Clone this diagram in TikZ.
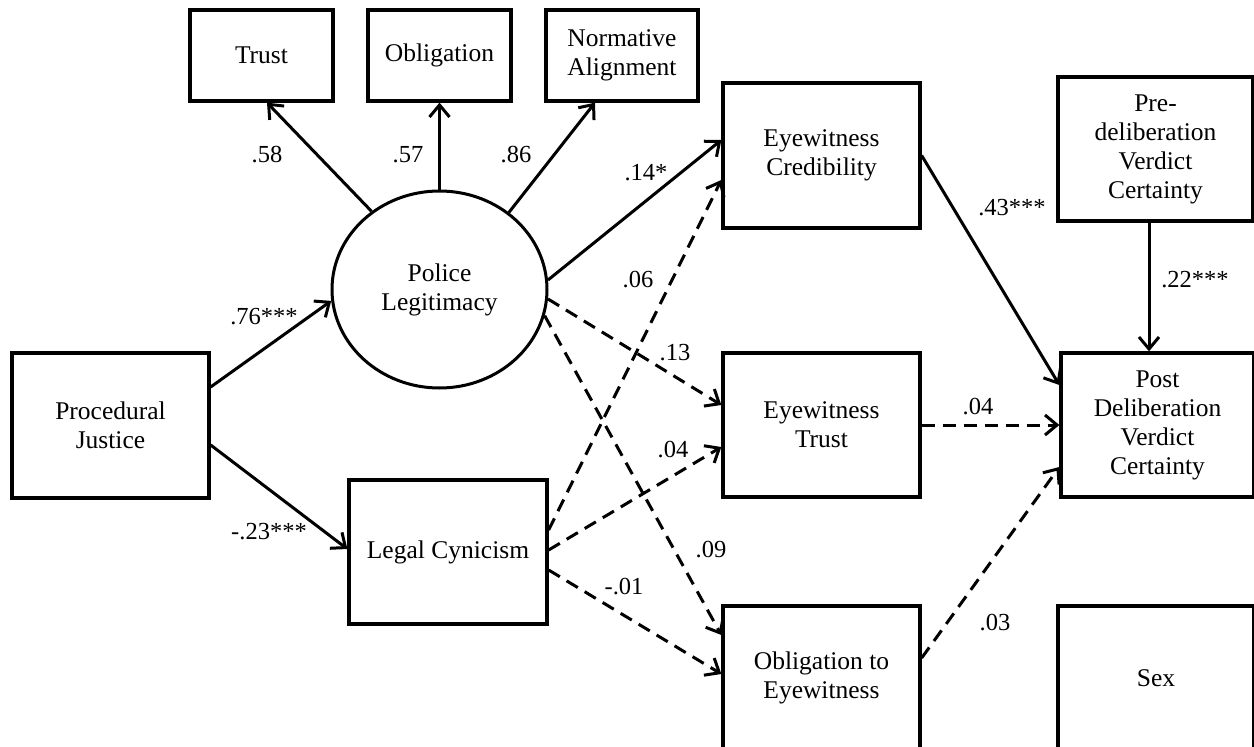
\documentclass[tikz,border=0pt]{standalone}
\usepackage{fontspec}
\setmainfont{Liberation Serif}
\usetikzlibrary{arrows.meta,shapes.geometric}
\begin{document}
\begin{tikzpicture}[x=1pt,y=-1pt,
  box/.style={draw,line width=3.3pt,fill=white,align=center,inner sep=0pt,font=\fontsize{25.5}{29}\selectfont},
  lat/.style={draw,ellipse,line width=3pt,fill=white,align=center,inner sep=0pt,font=\fontsize{25.5}{29}\selectfont},
  lbl/.style={font=\fontsize{24.5}{28}\selectfont,inner sep=0pt},
  arr/.style={line width=3pt,-{Straight Barb[length=12pt,width=20pt]}},
  dsh/.style={arr,dash pattern=on 13pt off 8pt}
]
\useasboundingbox (0,0) rectangle (1254,747);
% nodes
\node[box,minimum width=143pt,minimum height=91pt] (trust) at (261.5,55.5) {Trust};
\node[box,minimum width=143pt,minimum height=91pt] (oblig) at (439.5,55.5) {Obligation};
\node[box,minimum width=152pt,minimum height=91pt] (norm) at (622,55.5) {Normative\\Alignment};
\node[box,minimum width=197pt,minimum height=145pt] (cred) at (821.5,155.5) {Eyewitness\\Credibility};
\node[box,minimum width=195pt,minimum height=144pt] (pre) at (1155.5,149) {Pre-\\deliberation\\Verdict\\Certainty};
\node[lat,minimum width=215pt,minimum height=197pt] (pl) at (439.5,289.5) {Police\\Legitimacy};
\node[box,minimum width=197pt,minimum height=145pt] (pj) at (110.5,425.5) {Procedural\\Justice};
\node[box,minimum width=198pt,minimum height=144pt] (lc) at (448,552) {Legal Cynicism};
\node[box,minimum width=197pt,minimum height=144pt] (etrust) at (821.5,425) {Eyewitness\\Trust};
\node[box,minimum width=193pt,minimum height=144pt] (post) at (1157.5,425) {Post\\Deliberation\\Verdict\\Certainty};
\node[box,minimum width=197pt,minimum height=144pt] (obl) at (821.5,678) {Obligation to\\Eyewitness};
\node[box,minimum width=196pt,minimum height=144pt] (sex) at (1156,678) {Sex};
% solid connectors
\draw[arr] (pl.131) -- ([xshift=5.5pt]trust.south);
\draw[arr] (pl.north) -- (oblig.south);
\draw[arr] (pl.48) -- ([xshift=-27pt]norm.south);
\draw[arr] (pl.5) -- ([yshift=15.5pt]cred.west);
\draw[arr] ([yshift=38.5pt]pj.east) -- (pl.186);
\draw[arr] ([yshift=-19.5pt]pj.east) -- ([yshift=3pt]lc.west);
\draw[arr] (cred.east) -- ([yshift=40pt]post.west);
\draw[arr] ([xshift=-6.5pt]pre.south) -- ([xshift=-8.5pt]post.north);
% dashed connectors
\draw[dsh] ([yshift=22pt]lc.east) -- ([yshift=-24.5pt]cred.west);
\draw[dsh] (pl.-5) -- ([yshift=20pt]etrust.west);
\draw[dsh] ([yshift=2pt]lc.east) -- ([yshift=-22pt]etrust.west);
\draw[dsh] (pl.-14) -- ([yshift=43pt]obl.west);
\draw[dsh] ([yshift=-18pt]lc.east) -- ([yshift=4pt]obl.west);
\draw[dsh] (etrust.east) -- (post.west);
\draw[dsh] ([yshift=20pt]obl.east) -- ([yshift=-42pt]post.west);
% labels
\node[lbl] (l1) at (267,155) {.58};
\node[lbl] (l2) at (408,155) {.57};
\node[lbl] (l3) at (516,155) {.86};
\node[lbl] (l4) at (646,173) {.14*};
\node[lbl] (l5) at (264,317) {.76***};
\node[lbl] (l6) at (269,532) {-.23***};
\node[lbl] (l7) at (638,280) {.06};
\node[lbl] (l8) at (675,353) {.13};
\node[lbl] (l9) at (673,450) {.04};
\node[lbl] (l10) at (711,550) {.09};
\node[lbl] (l11) at (624,587) {-.01};
\node[lbl] (l12) at (1012,208) {.43***};
\node[lbl] (l13) at (1195,280) {.22***};
\node[lbl] (l14) at (978,407) {.04};
\node[lbl] (l15) at (995,623) {.03};
\end{tikzpicture}
\end{document}
